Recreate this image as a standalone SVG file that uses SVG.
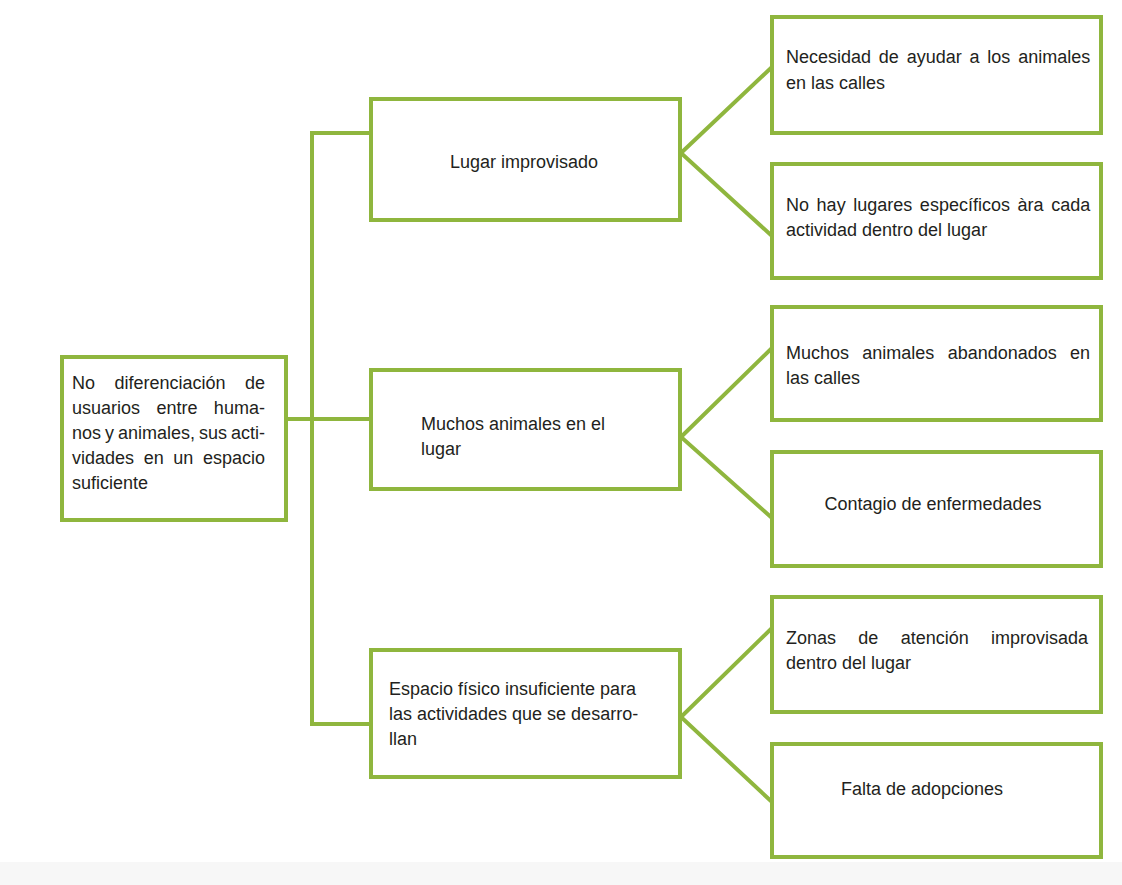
<svg xmlns="http://www.w3.org/2000/svg" width="1122" height="885" viewBox="0 0 1122 885">
<style>
.box{fill:#ffffff;stroke:#8fb63e;stroke-width:4}
.con{fill:none;stroke:#8fb63e;stroke-width:4;stroke-linejoin:miter}
text{font-family:"Liberation Sans",Arial,sans-serif;font-size:18px;fill:#231f20}
</style>
<rect x="0" y="0" width="1122" height="885" fill="#ffffff"/>
<rect x="0" y="862" width="1122" height="23" fill="#f7f7f7"/>
<g id="connectors">
<polyline class="con" points="288,419 312,419"/>
<polyline class="con" points="369,133 312,133 312,724 369,724"/>
<polyline class="con" points="312,419 369,419"/>
<polyline class="con" points="772,67 681,153 772,236"/>
<polyline class="con" points="772,348 681,437 772,518"/>
<polyline class="con" points="772,628 681,717 772,802"/>
</g>
<g id="root">
<rect class="box" x="62" y="357" width="224" height="163"/>
<text x="72" y="389" word-spacing="14.4">No diferenciación de</text>
<text x="72" y="414" word-spacing="11.4">usuarios entre huma-</text>
<text x="72" y="439" word-spacing="-1">nos y animales, sus acti-</text>
<text x="72" y="464" word-spacing="4.6">vidades en un espacio</text>
<text x="72" y="489">suficiente</text>
</g>
<g id="n1">
<rect class="box" x="371" y="99" width="309" height="121"/>
<text x="524" y="168" text-anchor="middle">Lugar improvisado</text>
</g>
<g id="n2">
<rect class="box" x="371" y="370" width="309" height="119"/>
<text x="421" y="430">Muchos animales en el</text>
<text x="421" y="455">lugar</text>
</g>
<g id="n3">
<rect class="box" x="371" y="650" width="309" height="127"/>
<text x="389" y="695">Espacio físico insuficiente para</text>
<text x="389" y="720">las actividades que se desarro-</text>
<text x="389" y="745">llan</text>
</g>
<g id="n1a">
<rect class="box" x="772" y="17" width="329" height="116"/>
<text x="786" y="63" word-spacing="2.8">Necesidad de ayudar a los animales</text>
<text x="786" y="89">en las calles</text>
</g>
<g id="n1b">
<rect class="box" x="772" y="164" width="329" height="114"/>
<text x="786" y="211" word-spacing="2.6">No hay lugares específicos àra cada</text>
<text x="786" y="236">actividad dentro del lugar</text>
</g>
<g id="n2a">
<rect class="box" x="772" y="307" width="329" height="113"/>
<text x="786" y="359" word-spacing="8.3">Muchos animales abandonados en</text>
<text x="786" y="384">las calles</text>
</g>
<g id="n2b">
<rect class="box" x="772" y="452" width="329" height="114"/>
<text x="933" y="510" text-anchor="middle">Contagio de enfermedades</text>
</g>
<g id="n3a">
<rect class="box" x="772" y="597" width="329" height="115"/>
<text x="786" y="644" word-spacing="17.3">Zonas de atención improvisada</text>
<text x="786" y="669">dentro del lugar</text>
</g>
<g id="n3b">
<rect class="box" x="772" y="744" width="329" height="113"/>
<text x="922" y="795" text-anchor="middle">Falta de adopciones</text>
</g>
</svg>
